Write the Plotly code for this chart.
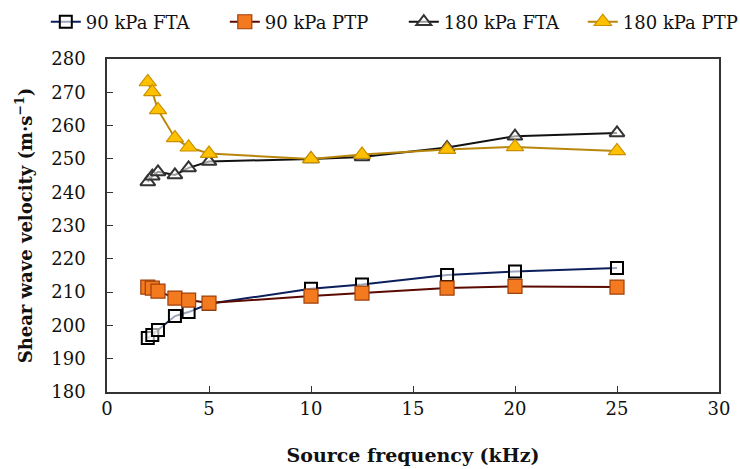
import plotly.graph_objects as go

freq = [2, 2.22, 2.5, 3.33, 4, 5, 10, 12.5, 16.67, 20, 25]
fta_90 = [196.2, 197.1, 198.6, 202.8, 204.0, 206.5, 211.0, 212.3, 215.1, 216.2, 217.2]
ptp_90 = [211.5, 211.2, 210.3, 208.2, 207.6, 206.7, 208.8, 209.7, 211.2, 211.7, 211.5]
fta_180 = [243.1, 244.8, 246.1, 245.2, 247.3, 249.2, 250.0, 250.6, 253.4, 256.8, 257.8]
ptp_180 = [273.1, 270.1, 264.7, 256.3, 253.5, 251.6, 250.0, 251.3, 252.8, 253.6, 252.4]

FONT = "DejaVu Serif"

fig = go.Figure()
fig.add_trace(go.Scatter(
    x=freq, y=fta_90, name="90 kPa FTA", mode="lines+markers",
    line=dict(color="#0b1f5c", width=2),
    marker=dict(symbol="square", size=12, color="rgba(255,255,255,0.6)",
                line=dict(color="#000000", width=2))))
fig.add_trace(go.Scatter(
    x=freq, y=ptp_90, name="90 kPa PTP", mode="lines+markers",
    line=dict(color="#5a0a00", width=2),
    marker=dict(symbol="square", size=14, color="#f47a20",
                line=dict(color="#a0400a", width=1.2))))
fig.add_trace(go.Scatter(
    x=freq, y=fta_180, name="180 kPa FTA", mode="lines+markers",
    line=dict(color="#111111", width=2),
    marker=dict(symbol="triangle-up", size=13, color="rgba(255,255,255,0.6)",
                line=dict(color="#333333", width=2))))
fig.add_trace(go.Scatter(
    x=freq, y=ptp_180, name="180 kPa PTP", mode="lines+markers",
    line=dict(color="#b8860b", width=2),
    marker=dict(symbol="triangle-up", size=15, color="#ffc000",
                line=dict(color="#c89000", width=1.2))))

fig.update_layout(
    width=740, height=469,
    margin=dict(l=107, r=21, t=59, b=77, autoexpand=False),
    paper_bgcolor="white", plot_bgcolor="white",
    font=dict(family=FONT, color="#111111", size=18),
    showlegend=True,
    legend=dict(orientation="h", xref="paper", yref="paper",
                x=-0.1, y=1.111, xanchor="left", yanchor="middle",
                font=dict(size=18, family=FONT), itemwidth=30,
                entrywidth=134, entrywidthmode="pixels",
                tracegroupgap=0, bgcolor="rgba(0,0,0,0)"),
    xaxis=dict(range=[0, 30], tickmode="array", tickvals=[0, 5, 10, 15, 20, 25, 30],
               ticks="inside", ticklen=6, tickcolor="#333", showgrid=False, zeroline=False,
               showline=True, linecolor="#333", linewidth=1.5, mirror=True,
               tickfont=dict(size=18, family=FONT),
               title=dict(text="<b>Source frequency (kHz)</b>", font=dict(size=19, family=FONT), standoff=30)),
    yaxis=dict(range=[180, 280], tickmode="array",
               tickvals=[180, 190, 200, 210, 220, 230, 240, 250, 260, 270, 280],
               ticks="inside", ticklen=6, tickcolor="#333", showgrid=False, zeroline=False,
               showline=True, linecolor="#333", linewidth=1.5, mirror=True,
               tickfont=dict(size=18, family=FONT), ticklabelstandoff=16,
               title=dict(text="<b>Shear wave velocity (m·s<sup>−1</sup>)</b>", font=dict(size=18, family=FONT), standoff=14)),
)

fig.write_html("out.html")
